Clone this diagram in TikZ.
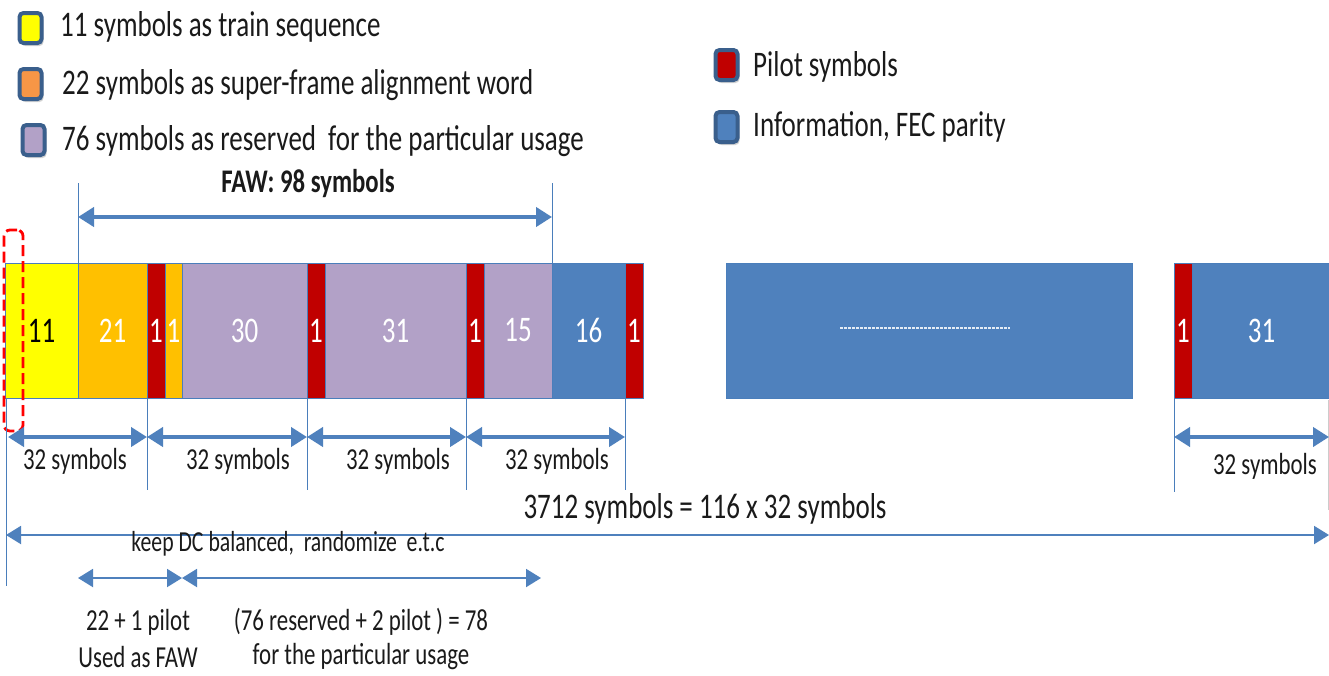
\documentclass[tikz,border=0pt]{standalone}
\usepackage{fontspec}
\setmainfont{Carlito}[FakeStretch=0.75]
\usetikzlibrary{arrows.meta,shadows}
\definecolor{cyel}{HTML}{FFFF00}
\definecolor{corg}{HTML}{FFC000}
\definecolor{corgl}{HTML}{F79646}
\definecolor{clav}{HTML}{B2A1C7}
\definecolor{cred}{HTML}{C00000}
\definecolor{cblue}{HTML}{4F81BD}
\definecolor{cline}{HTML}{4A7EBB}
\definecolor{cborder}{HTML}{3A5F8C}
\definecolor{ctext}{HTML}{1A1A1A}
\newcommand{\bigf}{\fontsize{36}{40}\selectfont}
\newcommand{\smallf}{\fontsize{30.5}{34}\selectfont}
\begin{document}
\begin{tikzpicture}[x=1pt,y=-1pt,
  seg/.style={draw=cline, line width=0.8pt, inner sep=0pt, outer sep=0pt,
    minimum height=135pt, text=white, font=\bigf},
  legbox/.style={draw=cborder, line width=4pt, rounded corners=4pt,
    minimum width=22pt, minimum height=30pt, inner sep=0pt,
    drop shadow={opacity=0.35, shadow xshift=2pt, shadow yshift=-3pt}},
  legtext/.style={anchor=west, inner sep=0pt, text=ctext, font=\bigf},
  lbl/.style={inner sep=0pt, text=ctext, font=\smallf},
  tick/.style={draw=cline, line width=0.9pt},
  fatarrow/.style={draw=cblue, line width=4pt, {Triangle[length=16pt,width=19pt]}-{Triangle[length=16pt,width=19pt]}},
  thinarrow/.style={draw=cblue, line width=2pt, {Triangle[length=15pt,width=18pt]}-{Triangle[length=15pt,width=18pt]}}
]
\useasboundingbox (0,0) rectangle (1329,675);
\fill[white] (0,0) rectangle (1329,675);

% legend
\node[legbox, fill=cyel] (lg1) at (30.5,28) {};
\node[legtext] (lt1) at (60,27) {11 symbols as train sequence};
\node[legbox, fill=corgl] (lg2) at (30.5,84) {};
\node[legtext] (lt2) at (62,85) {22 symbols as super-frame alignment word};
\node[legbox, fill=clav] (lg3) at (33.5,140) {};
\node[legtext] (lt3) at (62,141) {76 symbols as reserved\, for the particular usage};
\node[legbox, fill=cred] (lg4) at (726.5,65) {};
\node[legtext] (lt4) at (753,67) {Pilot symbols};
\node[legbox, fill=cblue] (lg5) at (726.5,127) {};
\node[legtext] (lt5) at (753,127) {Information, FEC parity};

% bar segments
\node[seg, fill=cyel, text=black, minimum width=73pt] (s1) at (41.5,330.5) {11};
\node[seg, fill=corg, minimum width=69pt] (s2) at (112.5,330.5) {21};
\node[seg, fill=cred, minimum width=18pt] (s3) at (156,330.5) {1};
\node[seg, fill=corg, minimum width=17pt] (s4) at (173.5,330.5) {1};
\node[seg, fill=clav, minimum width=125pt] (s5) at (244.5,330.5) {30};
\node[seg, fill=cred, minimum width=18pt] (s6) at (316,330.5) {1};
\node[seg, fill=clav, minimum width=141pt] (s7) at (395.5,330.5) {31};
\node[seg, fill=cred, minimum width=18pt] (s8) at (475,330.5) {1};
\node[seg, fill=clav, minimum width=68pt] (s9) at (518,330.5) {15};
\node[seg, fill=cblue, minimum width=73pt] (s10) at (588.5,330.5) {16};
\node[seg, fill=cred, minimum width=18pt] (s11) at (634,330.5) {1};
\node[seg, fill=cblue, minimum width=406pt] (s12) at (929,330.5) {};
\node[seg, fill=cred, minimum width=18pt] (s13) at (1183,330.5) {1};
\node[seg, fill=cblue, minimum width=139pt] (s14) at (1261.5,330.5) {31};
\draw[white!85!cblue, dash pattern=on 3pt off 1pt, line width=1.6pt] (840,328) -- (1010,328);

% selection marker
\node[draw=red, dash pattern=on 11pt off 5pt, line width=2.8pt, rounded corners=6pt, minimum width=19pt,
  minimum height=201pt, inner sep=0pt] (sel) at (13.5,330.5) {};

% FAW
\draw[tick] (s2.north west) -- ++(0,-80);
\draw[tick] (s10.north west) -- ++(0,-80);
\coordinate (fa) at (78,217);
\coordinate (fb) at (552,217);
\draw[fatarrow] (fa) -- (fb);
\node[lbl, font=\fontsize{33}{36}\selectfont\bfseries] (faw) at (308,184) {FAW: 98 symbols};

% ticks below
\draw[tick] (s3.south west) -- ++(0,92);
\draw[tick] (s6.south west) -- ++(0,92);
\draw[tick] (s8.south west) -- ++(0,92);
\draw[tick] (s11.south west) -- ++(0,92);
\draw[tick] (s13.south west) -- ++(0,94);
\draw[tick] (6,398) -- (6,586);
\draw[draw=gray!40, line width=0.8pt] (1328,400) -- (1328,510);

% 32 symbols arrows
\coordinate (a0) at (8,437);
\coordinate (a1) at (147,437);
\coordinate (a2) at (307,437);
\coordinate (a3) at (466,437);
\coordinate (a4) at (625,437);
\coordinate (a5) at (1174,437);
\coordinate (a6) at (1329,437);
\draw[fatarrow] (a0) -- (a1);
\draw[fatarrow] (a1) -- (a2);
\draw[fatarrow] (a2) -- (a3);
\draw[fatarrow] (a3) -- (a4);
\draw[fatarrow] (a5) -- (a6);
\node[lbl] (l1) at (75,461) {32 symbols};
\node[lbl] (l2) at (238,461) {32 symbols};
\node[lbl] (l3) at (398,461) {32 symbols};
\node[lbl] (l4) at (557,461) {32 symbols};
\node[lbl] (l5) at (1265,466) {32 symbols};

% total
\coordinate (b0) at (6,535);
\coordinate (b1) at (1329,535);
\draw[thinarrow] (b0) -- (b1);
\node[lbl, font=\bigf] (tot) at (705,509) {3712 symbols = 116 x 32 symbols};
\node[lbl, font=\fontsize{29}{32}\selectfont] (dc) at (288,544) {keep DC balanced,\, randomize\, e.t.c};

% bottom arrows
\coordinate (c0) at (78,578);
\coordinate (c1) at (182,578);
\coordinate (c2) at (541,578);
\draw[thinarrow] (c0) -- (c1);
\draw[thinarrow] (c1) -- (c2);
\node[lbl] (p1) at (138,622) {22 + 1 pilot};
\node[lbl] (p2) at (138,657) {Used as FAW};
\node[lbl] (q1) at (361,622) {(76 reserved + 2 pilot ) = 78};
\node[lbl] (q2) at (361,657) {for the particular usage};
\end{tikzpicture}
\end{document}
